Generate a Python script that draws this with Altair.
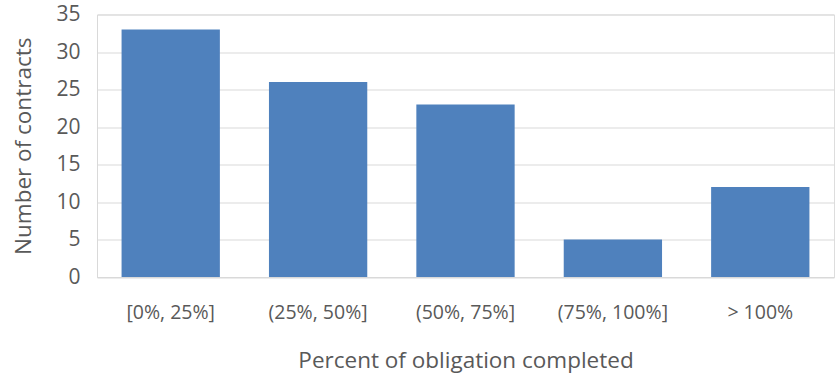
import altair as alt
import pandas as pd

categories = ["[0%, 25%]", "(25%, 50%]", "(50%, 75%]", "(75%, 100%]", "> 100%"]
counts = [33, 26, 23, 5, 12]

df = pd.DataFrame({"cat": categories, "n": counts})

FONT = "Open Sans"
GRAY = "#595959"

chart = alt.Chart(df).mark_bar(color="#4F81BD").encode(
    x=alt.X("cat:N", sort=categories,
            scale=alt.Scale(paddingInner=0.333, paddingOuter=0.1667),
            axis=alt.Axis(title="Percent of obligation completed", labelAngle=0,
                          ticks=False, labelPadding=26, domainColor="#d9d9d9",
                          labelFont=FONT, labelFontSize=19.5, labelColor=GRAY,
                          titleFont=FONT, titleFontSize=22.5, titleColor=GRAY,
                          titleFontWeight="normal", titleY=83, titleBaseline="middle")),
    y=alt.Y("n:Q", scale=alt.Scale(domain=[0, 35], nice=False),
            axis=alt.Axis(title="Number of contracts", values=[0, 5, 10, 15, 20, 25, 30, 35],
                          ticks=False, labelPadding=17, domainColor="#d9d9d9",
                          gridColor="#d9d9d9", labelFont=FONT, labelFontSize=21,
                          labelColor=GRAY, titleFont=FONT, titleFontSize=22.5,
                          titleColor=GRAY, titleFontWeight="normal",
                          titleX=-74, titleBaseline="middle")),
).properties(
    width=737, height=262.5,
    autosize=alt.AutoSizeParams(type="none"),
    padding={"left": 97, "top": 14.5, "right": 2, "bottom": 99},
).configure_view(stroke=None).configure(background="white")

chart.save("out.html", embed_options={"renderer": "svg", "actions": False})
